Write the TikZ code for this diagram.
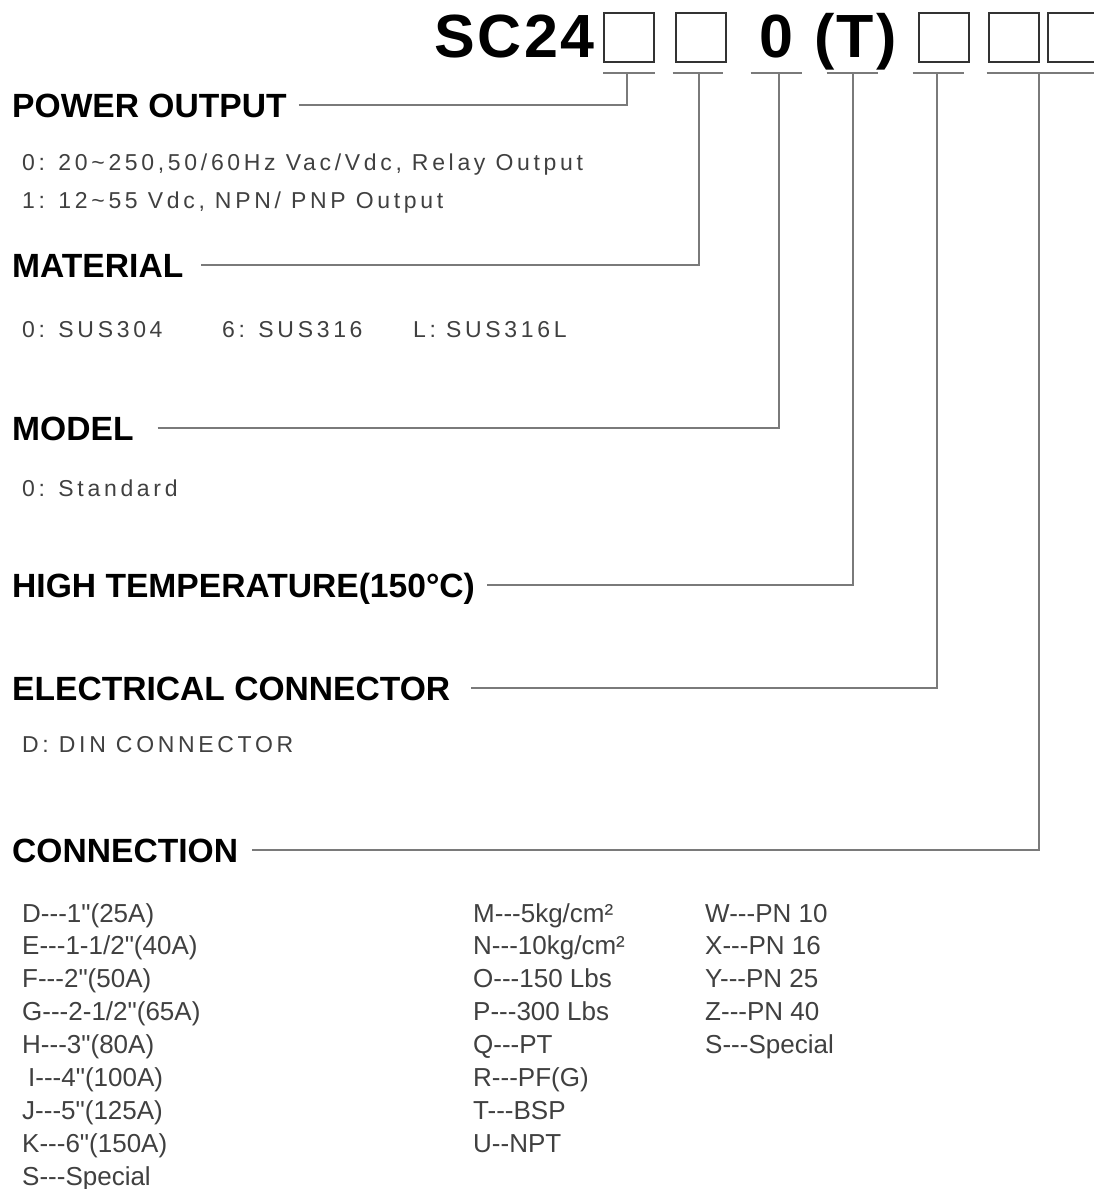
\documentclass[tikz,border=0pt]{standalone}
\usepackage{fontspec}
\usepackage{xcolor}
\setmainfont{Liberation Sans}[Ligatures=TeXOff]
\newfontfamily\codefont{Liberation Sans}[Ligatures=TeXOff, LetterSpace=4]
\newfontfamily\headfont{Liberation Sans}[Ligatures=TeXOff]
\newfontfamily\bodyfont{Liberation Sans}[Ligatures=TeXOff, LetterSpace=16]
\newfontfamily\listfont{Liberation Sans}[Ligatures=TeXOff]

\definecolor{boxgray}{HTML}{333333}
\definecolor{leadgray}{HTML}{7A7A7A}
\definecolor{textgray}{HTML}{404040}

\begin{document}
\begin{tikzpicture}[
    x=1pt, y=-1pt,
    code/.style    ={anchor=base, inner sep=0pt,
                     font=\codefont\bfseries\fontsize{61}{61}\selectfont},
    slot/.style    ={draw=boxgray, line width=2pt, minimum width=50pt,
                     minimum height=49pt, inner sep=0pt},
    heading/.style ={anchor=west, inner sep=0pt, text height=24pt, text depth=0pt,
                     font=\headfont\bfseries\fontsize{33.6}{34}\selectfont},
    option/.style  ={anchor=base west, inner sep=0pt, text=textgray, align=left,
                     font=\bodyfont\fontsize{23}{38}\selectfont},
    list/.style    ={anchor=base west, inner sep=0pt, text=textgray, align=left,
                     font=\listfont\fontsize{26}{32.9}\selectfont},
    lead/.style    ={draw=leadgray, line width=1.8pt}
]
\fill[white] (0,0) rectangle (1094,1189);
\useasboundingbox (0,0) rectangle (1094,1189);

% Order code on top
\node[code] (sc)   at (514.5,57.7) {SC24};
\node[slot] (s1)   at (629,37) {};
\node[slot] (s2)   at (701.2,37) {};
\node[code] (zero) at (776.7,57.7) {0};
\node[code] (ht)   at (855.5,57.7) {(T)};
\node[slot] (s3)   at (943.6,37) {};
\node[slot] (s4)   at (1013.8,37) {};
\node[slot] (s5)   at (1072.7,37) {};

% Underlines below each position
\draw[lead] (603,72.7) -- (655,72.7);
\draw[lead] (672.7,72.7) -- (723,72.7);
\draw[lead] (750.7,72.7) -- (801.7,72.7);
\draw[lead] (826.7,72.7) -- (878.3,72.7);
\draw[lead] (912.7,72.7) -- (964,72.7);
\draw[lead] (986.7,72.7) -- (1100,72.7);
\coordinate (t1) at (627.3,72.7);
\coordinate (t2) at (699.3,72.7);
\coordinate (t3) at (779.3,72.7);
\coordinate (t4) at (853.3,72.7);
\coordinate (t5) at (936.7,72.7);
\coordinate (t6) at (1039.3,72.7);

% Headings
\node[heading] (pow) at (12,105) {POWER OUTPUT};
\node[heading] (mat) at (12,265) {MATERIAL};
\node[heading] (mdl) at (12,428) {MODEL};
\node[heading] (tmp) at (12,585) {HIGH TEMPERATURE(150°C)};
\node[heading] (ele) at (12,688) {ELECTRICAL CONNECTOR};
\node[heading] (con) at (12,850) {CONNECTION};

% Options (multi-line nodes sit on their last baseline)
\node[option] (pwopt)  at (22,208) {0: 20\textasciitilde250,50/60Hz Vac/Vdc, Relay Output\\
                                    1: 12\textasciitilde55 Vdc, NPN/ PNP Output};
\node[option] (mat304) at (22,337)  {0: SUS304};
\node[option] (mat316) at (222,337) {6: SUS316};
\node[option] (mat316l) at (413,337) {L: SUS316L};
\node[option] (mdlopt) at (22,496)  {0: Standard};
\node[option] (eleopt) at (22,752)  {D: DIN CONNECTOR};

% Connection lists
\node[list] (size) at (22,1185.2) {D---1"(25A)\\E---1-1/2"(40A)\\F---2"(50A)\\
    G---2-1/2"(65A)\\H---3"(80A)\\\hspace{6pt}I---4"(100A)\\J---5"(125A)\\
    K---6"(150A)\\S---Special};
\node[list] (rate) at (473,1152.3) {M---5kg/cm²\\N---10kg/cm²\\O---150 Lbs\\
    P---300 Lbs\\Q---PT\\R---PF(G)\\T---BSP\\U--NPT};
\node[list] (pn)   at (705,1053.6) {W---PN 10\\X---PN 16\\Y---PN 25\\Z---PN 40\\S---Special};

% --- Leader lines ---
\draw[lead] ([xshift=12pt]pow.east) -| (t1);
\draw[lead] ([xshift=18pt]mat.east) -| (t2);
\draw[lead] ([xshift=24pt]mdl.east) -| (t3);
\draw[lead] ([xshift=12pt]tmp.east) -| (t4);
\draw[lead] ([xshift=21pt]ele.east) -| (t5);
\draw[lead] ([xshift=14pt]con.east) -| (t6);

\end{tikzpicture}
\end{document}
